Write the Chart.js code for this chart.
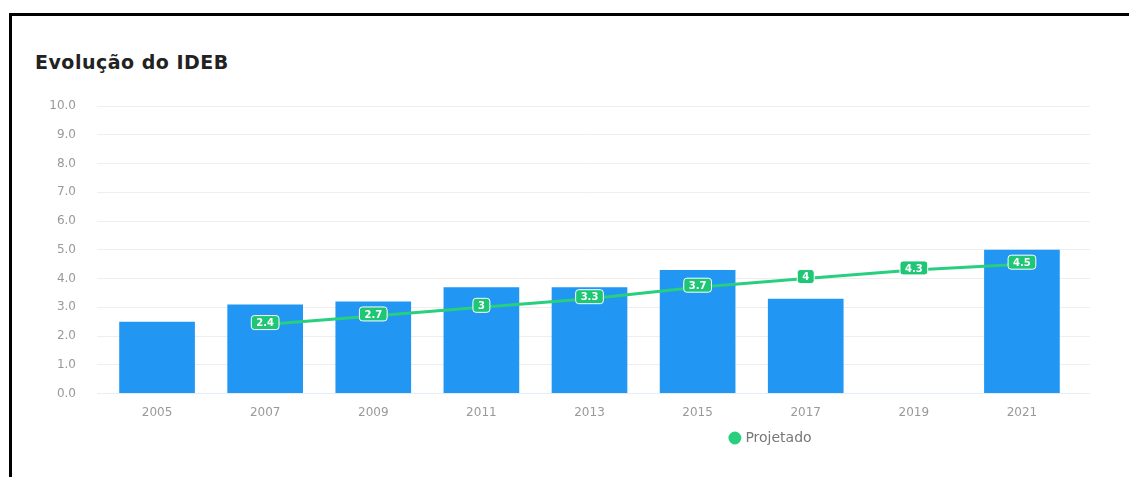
<!DOCTYPE html>
<html lang="pt-BR">
<head>
<meta charset="utf-8">
<title>Evolução do IDEB</title>
<script src="https://cdn.jsdelivr.net/npm/chart.js@4/dist/chart.umd.min.js"></script>
<style>
  html, body { margin: 0; padding: 0; background: #fff; overflow: hidden; }
  body { width: 1129px; height: 477px; position: relative; }
  .card {
    position: absolute; left: 9px; top: 13px;
    width: 1200px; height: 600px;
    border: 3px solid #000; box-sizing: border-box;
  }
  .card h3 {
    position: absolute; left: 23px; top: 35px; margin: 0;
    font: bold 19px "DejaVu Sans", sans-serif; letter-spacing: 0.5px; color: #222;
  }
  .chart-box { position: absolute; left: 9px; top: 67px; width: 1117px; height: 410px; }
</style>
</head>
<body>
<div class="card"><h3>Evolução do IDEB</h3></div>
<div class="chart-box"><canvas id="ideb_chart"></canvas></div>
<script>
  const anos = ['2005', '2007', '2009', '2011', '2013', '2015', '2017', '2019', '2021'];
  const idebObservado = [2.5, 3.1, 3.2, 3.7, 3.7, 4.3, 3.3, null, 5.0];
  const idebProjetado = [null, 2.4, 2.7, 3, 3.3, 3.7, 4, 4.3, 4.5];
  const yTicks = [0, 1, 2, 3, 4, 5, 6, 7, 8, 9, 10];

  const azul = '#2196f3';
  const verde = '#27cf7e';
  const fonte = '"DejaVu Sans", sans-serif';

  // caixinhas verdes com o valor projetado sobre cada ponto da linha
  const projLabels = {
    id: 'projLabels',
    afterDatasetsDraw(chart) {
      const meta = chart.getDatasetMeta(1);
      const ctx = chart.ctx;
      ctx.save();
      ctx.font = 'bold 10px ' + fonte;
      ctx.textAlign = 'center';
      ctx.textBaseline = 'middle';
      meta.data.forEach((pt, i) => {
        const v = idebProjetado[i];
        if (v === null) return;
        const txt = String(v);
        const w = ctx.measureText(txt).width + 10;
        const h = 14;
        const x = pt.x - w / 2, y = pt.y - 2 - h / 2;
        ctx.beginPath();
        ctx.roundRect(x, y, w, h, 3);
        ctx.fillStyle = '#1fc676';
        ctx.fill();
        ctx.lineWidth = 1;
        ctx.strokeStyle = '#ffffff';
        ctx.stroke();
        ctx.fillStyle = '#ffffff';
        ctx.fillText(txt, pt.x, pt.y - 1);
      });
      ctx.restore();
    }
  };

  // legenda deslocada para a direita do centro
  const legendShift = {
    id: 'legendShift',
    afterLayout(chart) {
      const lg = chart.legend;
      if (!lg) return;
      lg.left += 222;
      lg.right += 222;
    }
  };

  new Chart(document.getElementById('ideb_chart'), {
    data: {
      labels: anos,
      datasets: [
        {
          type: 'bar',
          label: 'IDEB',
          data: idebObservado,
          backgroundColor: azul,
          barPercentage: 0.7,
          categoryPercentage: 1,
          order: 2
        },
        {
          type: 'line',
          label: 'Projetado',
          data: idebProjetado,
          borderColor: verde,
          backgroundColor: verde,
          borderWidth: 3,
          pointRadius: 0,
          pointStyle: 'circle',
          tension: 0,
          order: 1
        }
      ]
    },
    options: {
      responsive: true,
      maintainAspectRatio: false,
      animation: false,
      layout: { padding: { top: 39, right: 36, bottom: 22, left: 0 } },
      plugins: {
        title: { display: false },
        tooltip: { enabled: false },
        legend: {
          position: 'bottom',
          labels: {
            usePointStyle: true,
            boxWidth: 7,
            boxHeight: 7,
            padding: 7,
            color: '#777',
            font: { family: fonte, size: 14 },
            filter: item => item.text === 'Projetado'
          }
        }
      },
      scales: {
        x: {
          grid: { display: false },
          border: { color: '#e3edf7' },
          ticks: { color: '#999', padding: 4, font: { family: fonte, size: 12 } }
        },
        y: {
          min: 0,
          max: 10,
          afterFit: scale => { scale.width = 94; },
          afterBuildTicks: scale => { scale.ticks = yTicks.map(v => ({ value: v })); },
          grid: { color: '#eeeeee', tickLength: 6 },
          border: { display: false },
          ticks: {
            color: '#999',
            padding: 21,
            font: { family: fonte, size: 12 },
            callback: v => v.toFixed(1)
          }
        },
        // eixo direito sem rótulos: só prolonga as linhas de grade
        yDir: {
          position: 'right',
          min: 0,
          max: 10,
          afterBuildTicks: scale => { scale.ticks = yTicks.map(v => ({ value: v })); },
          afterFit: scale => { scale.width = 14; },
          grid: { color: '#eeeeee', tickLength: 14, drawOnChartArea: false },
          border: { display: false },
          ticks: { display: false }
        }
      }
    },
    plugins: [projLabels, legendShift]
  });
</script>
</body>
</html>
